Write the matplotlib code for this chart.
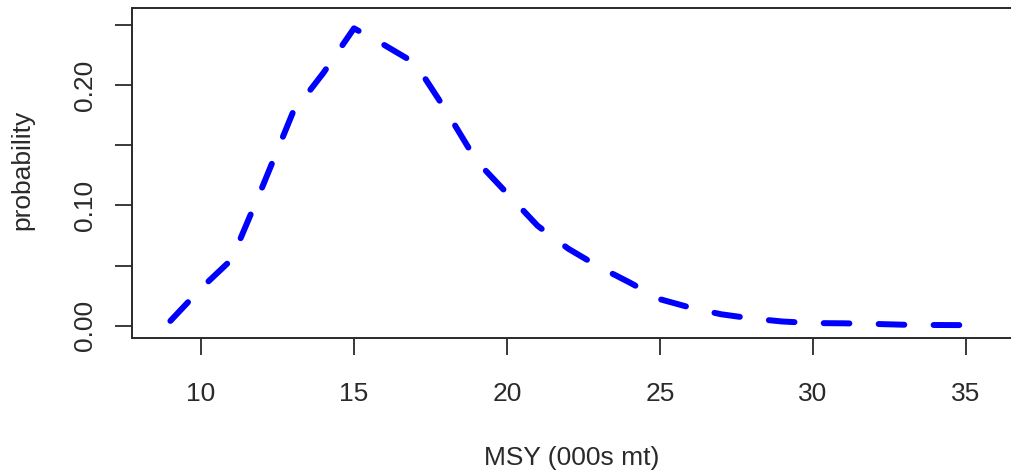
import matplotlib
matplotlib.use("Agg")
import matplotlib.pyplot as plt

# MSY values (000s mt) and the probability of each
msy = [9, 10, 11, 12, 13, 14, 15, 16, 17, 18, 19, 20, 21, 22,
       23, 24, 25, 26, 27, 28, 29, 30, 31, 32, 33, 34, 35]
prob = [0.004, 0.031, 0.055, 0.115, 0.177, 0.210, 0.247, 0.233, 0.218, 0.179,
        0.137, 0.110, 0.083, 0.064, 0.049, 0.036, 0.022, 0.015, 0.0095, 0.006,
        0.0035, 0.0022, 0.002, 0.0015, 0.0008, 0.0006, 0.0005]

xticks = [10, 15, 20, 25, 30, 35]
yticks = [0.00, 0.05, 0.10, 0.15, 0.20, 0.25]
ylabels = ["0.00", "", "0.10", "", "0.20", ""]

plt.rcParams['font.family'] = ['Liberation Sans', 'DejaVu Sans']
ink = '#2a2a2a'
fs = 19

fig = plt.figure(figsize=(10.12, 4.74), dpi=100)
# right edge of the box falls just outside the picture, as in the reference
ax = fig.add_axes([132 / 1012, 1 - 338 / 474, 884 / 1012, 330 / 474])

line, = ax.plot(msy, prob, color='#0000FF', lw=4.3, solid_capstyle='round',
                dash_capstyle='round')
line.set_dashes([4.3, 4.9])

ax.set_xlim(7.745, 7.745 + 884 / 30.6)
ax.set_ylim(-0.0102, -0.0102 + 330 / 1204)

ax.set_xticks(xticks)
ax.set_yticks(yticks)
ax.set_yticklabels(ylabels, rotation=90, va='center')

ax.tick_params(axis='both', length=12.2, width=1.3, color=ink, labelcolor=ink,
               labelsize=fs, direction='out')
ax.tick_params(axis='x', pad=19.5)
ax.tick_params(axis='y', pad=13)

for s in ax.spines.values():
    s.set_linewidth(1.4)
    s.set_color(ink)

ax.set_xlabel('MSY (000s mt)', fontsize=fs, color=ink)
ax.xaxis.set_label_coords(0.497, -0.364)
ax.xaxis.label.set_va('center')
ax.set_ylabel('probability', fontsize=fs, color=ink)
ax.yaxis.set_label_coords(-0.124, 0.509)
ax.yaxis.label.set_va('center')

fig.savefig('out.png', dpi=100)
